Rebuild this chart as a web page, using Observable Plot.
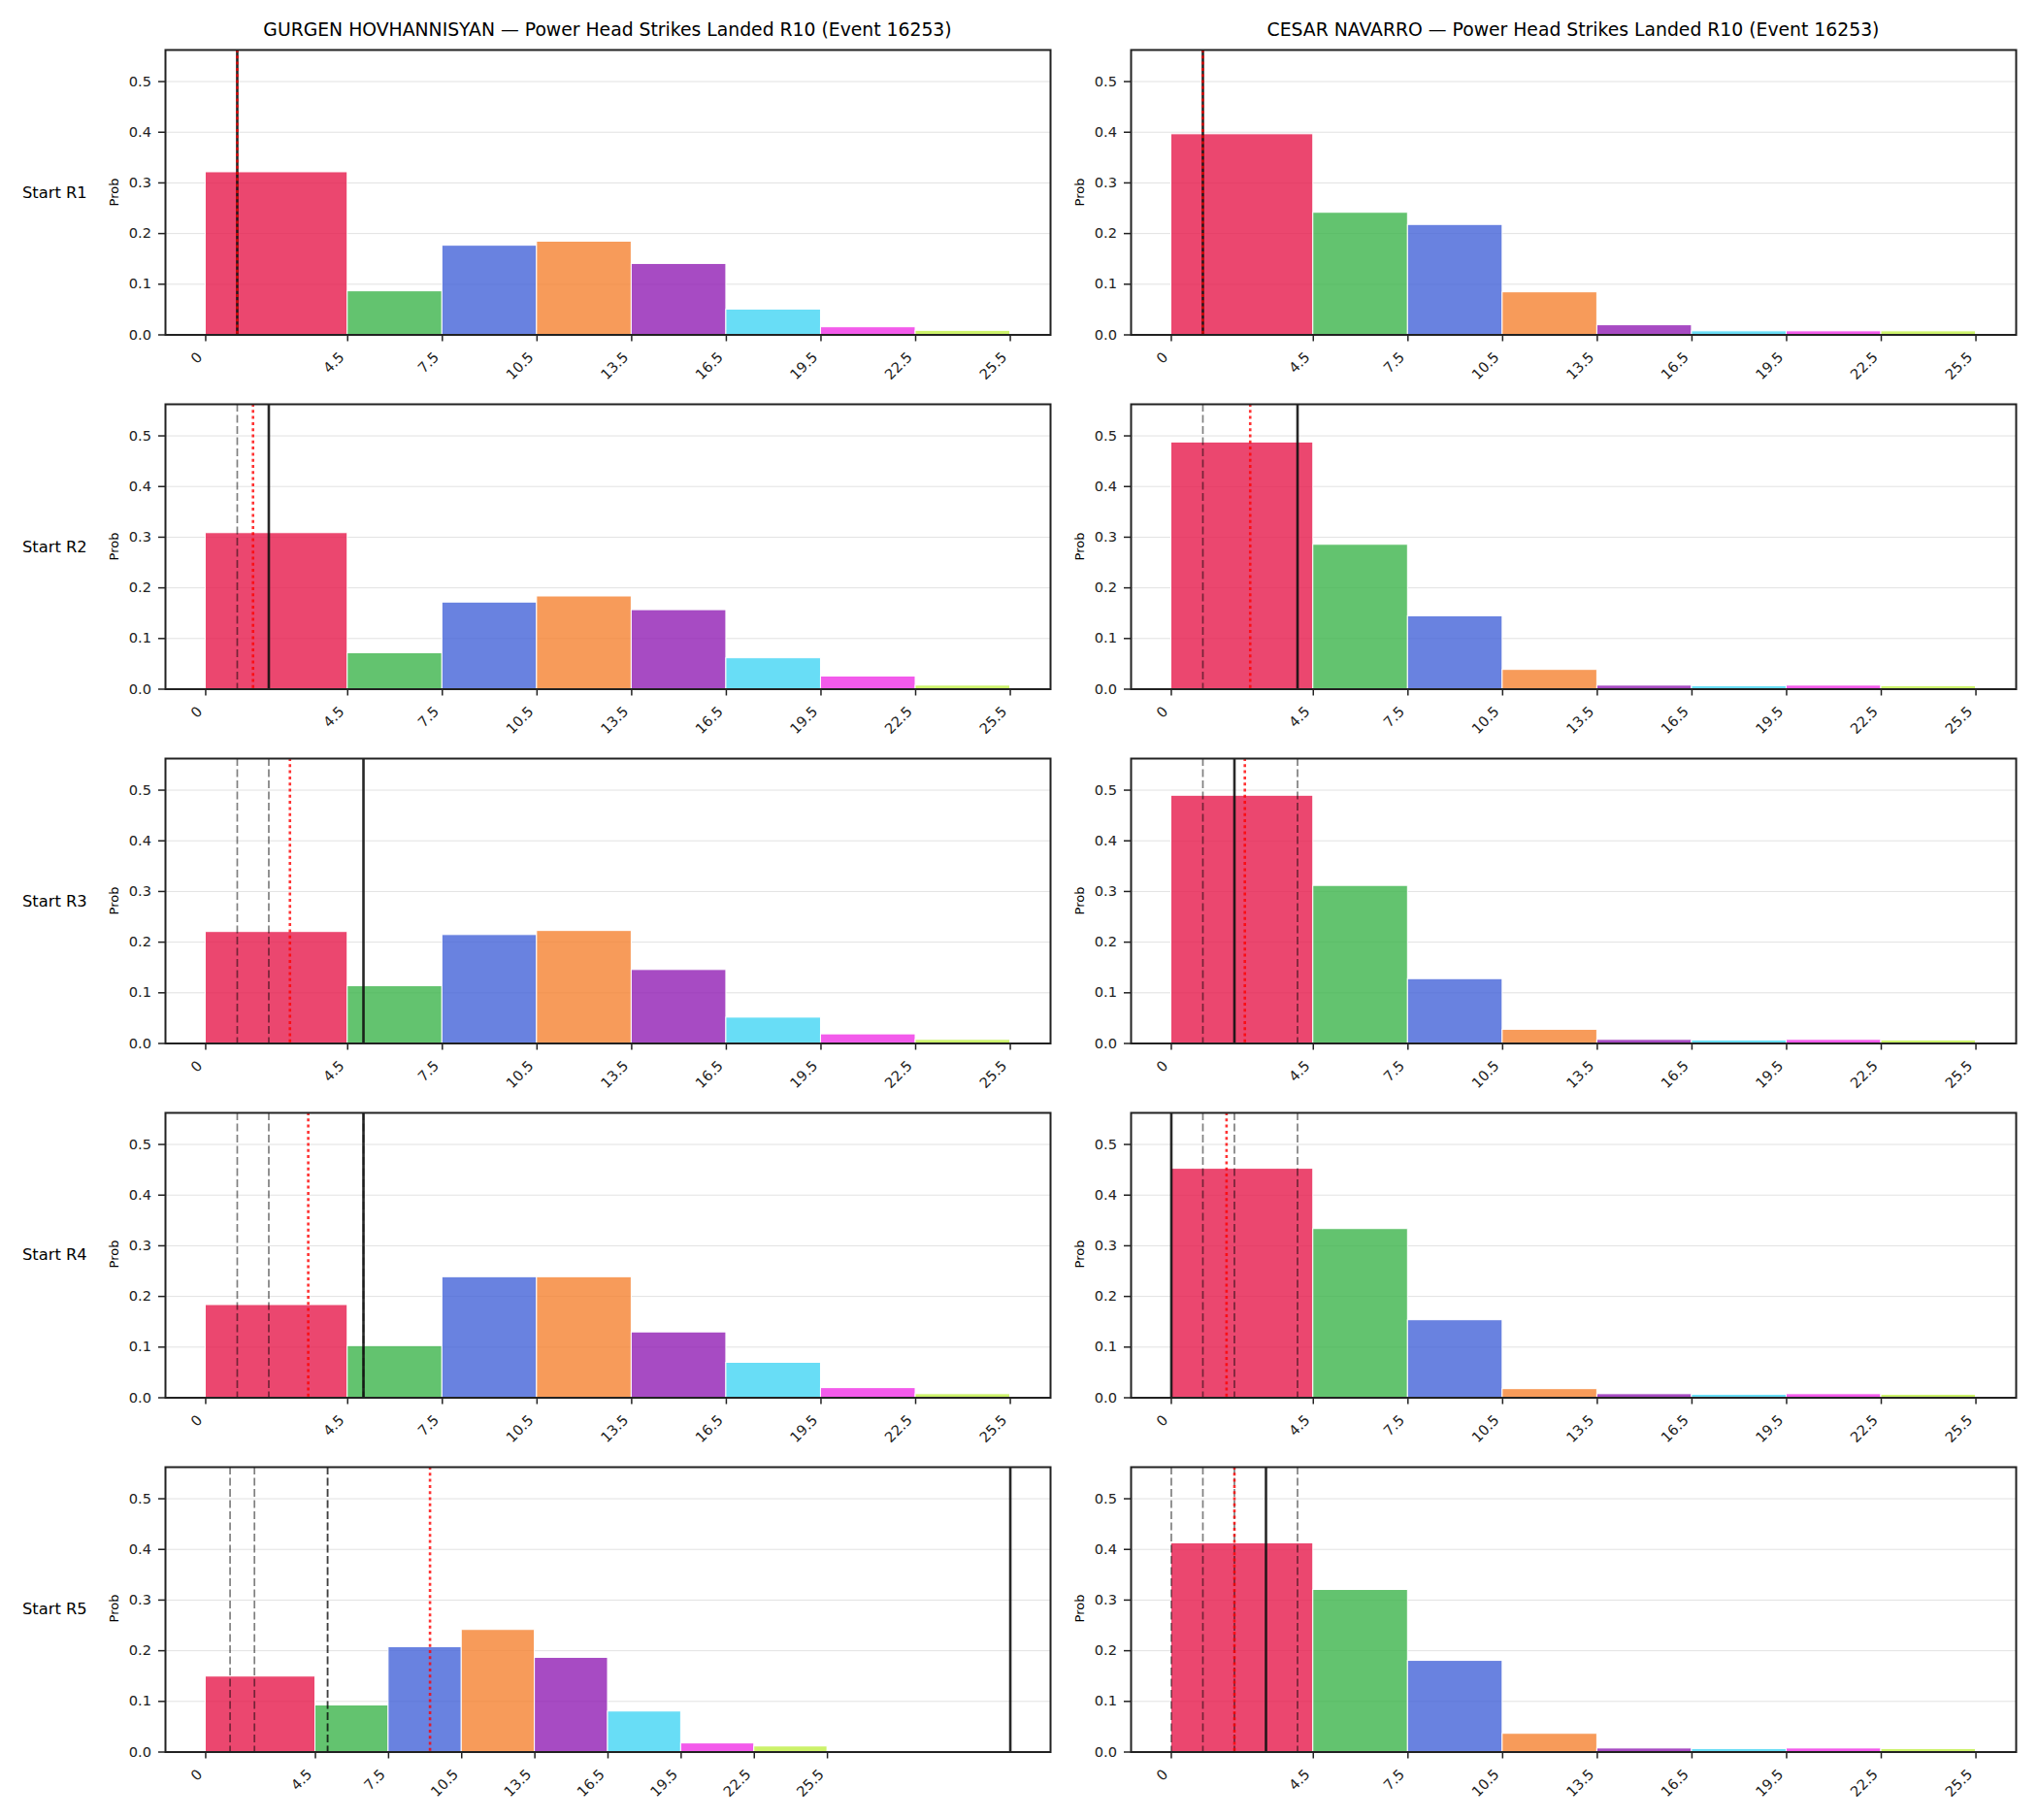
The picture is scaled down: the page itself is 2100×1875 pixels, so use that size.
<!DOCTYPE html>
<html>
<head>
<meta charset="utf-8">
<script src="https://cdn.jsdelivr.net/npm/d3@7"></script>
<script src="https://cdn.jsdelivr.net/npm/@observablehq/plot@0.6"></script>
<style>
  html, body { margin: 0; padding: 0; background: #fff; }
  #fig { position: relative; width: 2100px; height: 1875px; background: #fff; font-family: "DejaVu Sans", sans-serif; color: #000; overflow: hidden; }
  .title { position: absolute; font-size: 18.8px; transform: translate(-50%, -50%); white-space: nowrap; }
  .rowlab { position: absolute; font-size: 16.3px; transform: translateY(-50%); white-space: nowrap; }
  .ylab { position: absolute; font-size: 13px; transform: translate(-50%, -50%) rotate(-90deg); white-space: nowrap; }
  .panel { position: absolute; }
</style>
</head>
<body>
<div id="fig"></div>
<script>
// ---------------- data ----------------
const fighters = ["GURGEN HOVHANNISYAN", "CESAR NAVARRO"];
const titleSuffix = " — Power Head Strikes Landed R10 (Event 16253)";
const rowLabels = ["Start R1", "Start R2", "Start R3", "Start R4", "Start R5"];
const binEdges = [0, 4.5, 7.5, 10.5, 13.5, 16.5, 19.5, 22.5, 25.5];
const xTickLabels = ["0", "4.5", "7.5", "10.5", "13.5", "16.5", "19.5", "22.5", "25.5"];
const yTicks = [0, 0.1, 0.2, 0.3, 0.4, 0.5];
const binColors = ["#e6194b", "#3cb44b", "#4363d8", "#f58231", "#911eb4", "#42d4f4", "#f032e6", "#bfef45"];

// probability of each bin, one row per "Start Rk"
const gurgenProbs = [
  [0.321, 0.086, 0.176, 0.184, 0.140, 0.050, 0.015, 0.008],
  [0.308, 0.071, 0.171, 0.183, 0.156, 0.061, 0.025, 0.007],
  [0.220, 0.113, 0.214, 0.222, 0.145, 0.051, 0.018, 0.007],
  [0.183, 0.102, 0.238, 0.238, 0.129, 0.069, 0.019, 0.007],
  [0.149, 0.092, 0.207, 0.241, 0.186, 0.080, 0.017, 0.011]
];
const cesarProbs = [
  [0.396, 0.241, 0.217, 0.084, 0.019, 0.007, 0.007, 0.007],
  [0.487, 0.285, 0.144, 0.038, 0.007, 0.006, 0.007, 0.006],
  [0.489, 0.311, 0.127, 0.027, 0.007, 0.006, 0.007, 0.006],
  [0.452, 0.333, 0.153, 0.017, 0.007, 0.006, 0.007, 0.006],
  [0.412, 0.320, 0.180, 0.036, 0.007, 0.006, 0.007, 0.006]
];
// observed values per round (solid = current, dashed = earlier rounds)
const gurgenRoundValues = [1, 2, 5, 5, 33];
const cesarRoundValues = [1, 4, 2, 0, 3];
// red dotted reference line per row
const gurgenRefLine = [1, 1.5, 2.67, 3.25, 9.2];
const cesarRefLine = [1, 2.5, 2.33, 1.75, 2];

// ---------------- layout ----------------
const colLeft = [170, 1165];
const axW = 912;
const axH = 293.5;
const rowTop = [51, 415.9, 780.8, 1145.7, 1510.6];
const mL = 70, mR = 15, mT = 10, mB = 62;
const yMax = d3.max([...gurgenProbs.flat(), ...cesarProbs.flat()]) * 1.15;

const fig = document.getElementById("fig");

function addDiv(cls, text, x, y) {
  const d = document.createElement("div");
  d.className = cls;
  d.textContent = text;
  d.style.left = x + "px";
  d.style.top = y + "px";
  fig.appendChild(d);
}

function panel(probs, roundVals, refVal, k) {
  const bins = binColors.map((c, i) => ({x1: binEdges[i], x2: binEdges[i + 1], p: probs[i], c}));
  const prev = roundVals.slice(0, k);
  const cur = [roundVals[k]];
  const hi = Math.max(binEdges[binEdges.length - 1], ...roundVals.slice(0, k + 1), refVal);
  const lo = 0;
  const pad = 0.05 * (hi - lo);
  return Plot.plot({
    width: axW + mL + mR,
    height: axH + mT + mB,
    marginLeft: mL, marginRight: mR, marginTop: mT, marginBottom: mB,
    style: {fontFamily: "DejaVu Sans, sans-serif", fontSize: "14.6px", color: "#222", background: "transparent", overflow: "visible"},
    x: {domain: [lo - pad, hi + pad], label: null},
    y: {domain: [0, yMax], label: null},
    color: {type: "identity"},
    marks: [
      Plot.gridY(yTicks, {stroke: "#e2e2e2", strokeOpacity: 1, strokeWidth: 1}),
      Plot.rect(bins, {x1: "x1", x2: "x2", y1: () => 0, y2: "p", fill: "c", fillOpacity: 0.8, stroke: "white", strokeWidth: 1}),
      Plot.ruleX(prev, {x: d => d, stroke: "black", strokeOpacity: 0.5, strokeWidth: 1.7, strokeDasharray: "8,3.5"}),
      Plot.ruleX(cur, {x: d => d, stroke: "#111", strokeOpacity: 0.9, strokeWidth: 2.6}),
      Plot.ruleX([refVal], {x: d => d, stroke: "red", strokeOpacity: 0.8, strokeWidth: 2.6, strokeDasharray: "3,3.3"}),
      // x tick marks
      Plot.axisX(binEdges, {tickSize: 7, strokeWidth: 1.5, stroke: "#222", tickFormat: () => "", label: null}),
      // x tick labels, rotated 45° and right-aligned under each tick
      Plot.text(binEdges, {x: d => d, text: (d, i) => xTickLabels[i], frameAnchor: "bottom",
        rotate: -45, textAnchor: "end", lineAnchor: "middle", dx: -6, dy: 20.6, fontSize: 14.6, fill: "#222"}),
      Plot.axisY(yTicks, {tickSize: 7, tickPadding: 7.5, strokeWidth: 1.5, stroke: "#222", tickFormat: d3.format(".1f"), label: null}),
      Plot.frame({stroke: "#222", strokeWidth: 2})
    ]
  });
}

const probsBy = [gurgenProbs, cesarProbs];
const valsBy = [gurgenRoundValues, cesarRoundValues];
const refBy = [gurgenRefLine, cesarRefLine];

for (let c = 0; c < 2; c++) {
  addDiv("title", fighters[c] + titleSuffix, colLeft[c] + axW / 2, 29.5);
  for (let r = 0; r < 5; r++) {
    const svg = panel(probsBy[c][r], valsBy[c], refBy[c][r], r);
    const wrap = document.createElement("div");
    wrap.className = "panel";
    wrap.style.left = (colLeft[c] - mL) + "px";
    wrap.style.top = (rowTop[r] - mT) + "px";
    wrap.appendChild(svg);
    fig.appendChild(wrap);
    addDiv("ylab", "Prob", colLeft[c] - 53, rowTop[r] + axH / 2);
    if (c === 0) addDiv("rowlab", rowLabels[r], 23, rowTop[r] + axH / 2);
  }
}
</script>
</body>
</html>
